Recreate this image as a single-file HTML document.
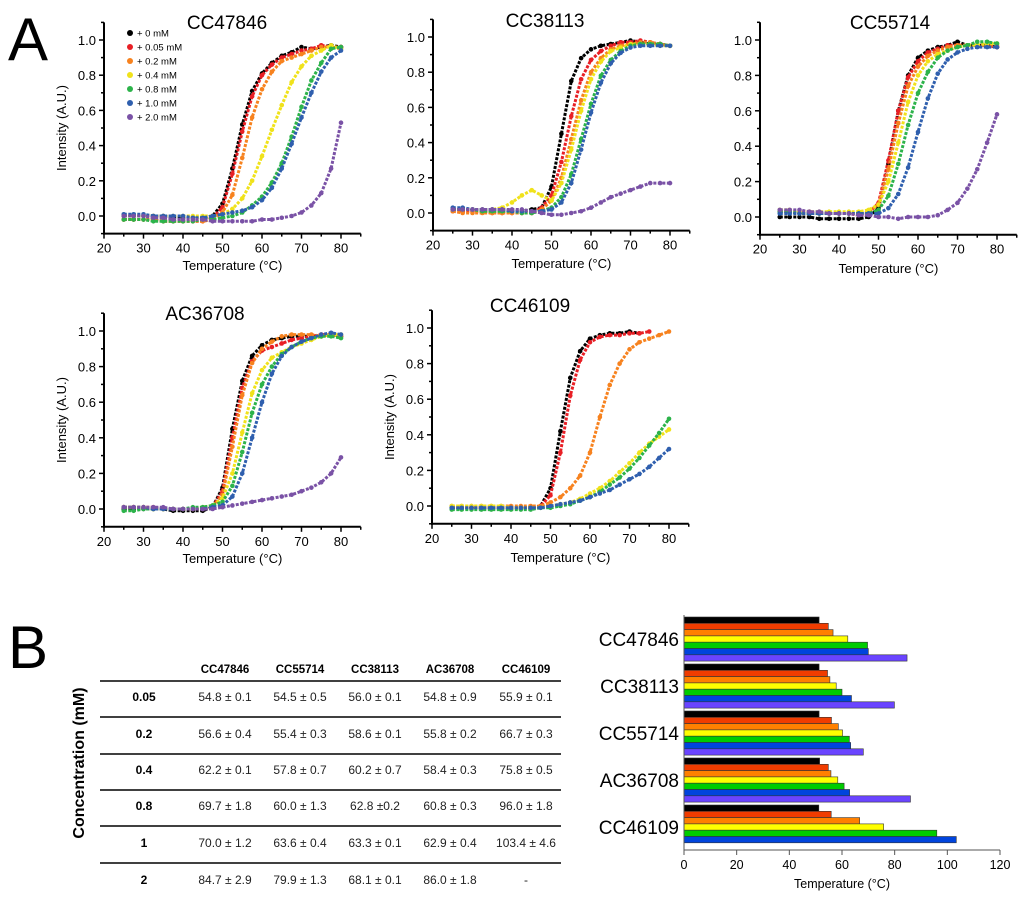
<!DOCTYPE html>
<html><head><meta charset="utf-8"><style>
body{margin:0;background:#fff;}
svg{display:block;font-family:"Liberation Sans",Arial,sans-serif;}
</style></head><body>
<svg id="fig" width="1024" height="898" viewBox="0 0 1024 898" xmlns="http://www.w3.org/2000/svg">
<text x="8" y="60" font-size="60">A</text>
<text x="8" y="668" font-size="60">B</text>
<g id="tbl"></g>
<g id="bars"></g>
</svg>
<script>
const temps=[25,27.5,30,32.5,35,37.5,40,42.5,45,47.5,50,52.5,55,57.5,60,62.5,65,67.5,70,72.5,75,77.5,80];
const seriesNames=["black","red","orange","yellow","green","blue","purple"];
const seriesColors=["#000000","#e81f25","#f7821e","#f0e21a","#2cb34a","#2f5fae","#7a52a6"];
const legendLabels=["+ 0 mM","+ 0.05 mM","+ 0.2 mM","+ 0.4 mM","+ 0.8 mM","+ 1.0 mM","+ 2.0 mM"];
const cc47846=[
[0,0,0,0,0,-0.01,-0.01,-0.01,-0.01,0,0.07,0.27,0.52,0.71,0.81,0.87,0.91,0.93,0.96,0.95,0.96,0.97,0.96],
[-0.02,-0.02,-0.02,-0.02,-0.03,-0.03,-0.03,-0.03,-0.03,-0.01,0.05,0.24,0.48,0.68,0.8,0.86,0.9,0.92,0.94,0.95,0.97,0.96,0.96],
[-0.02,-0.02,-0.02,-0.02,-0.03,-0.03,-0.03,-0.03,-0.03,-0.02,0.02,0.12,0.33,0.56,0.72,0.82,0.88,0.9,0.92,0.94,0.96,0.96,0.95],
[0,0,0,0,0,0,0,0,0,0,0.01,0.04,0.1,0.2,0.34,0.49,0.63,0.76,0.85,0.91,0.94,0.97,0.95],
[-0.02,-0.02,-0.02,-0.03,-0.03,-0.03,-0.03,-0.03,-0.02,-0.02,-0.01,0,0.02,0.06,0.11,0.19,0.3,0.45,0.62,0.77,0.87,0.95,0.96],
[0.01,0.01,0.01,0,0,0,0,-0.01,-0.01,0,0.01,0.02,0.03,0.05,0.09,0.16,0.27,0.41,0.56,0.7,0.82,0.9,0.94],
[0,0,0,-0.01,-0.01,-0.02,-0.02,-0.02,-0.02,-0.03,-0.03,-0.03,-0.03,-0.03,-0.02,-0.02,-0.01,0,0.02,0.06,0.13,0.27,0.53]];
const cc38113=[
[0.02,0.02,0.02,0.01,0.01,0.01,0.01,0.01,0.02,0.03,0.15,0.45,0.75,0.88,0.93,0.95,0.96,0.97,0.98,0.97,0.96,0.96,0.95],
[0.01,0.01,0.01,0.01,0,0,0,0,0,0.03,0.1,0.29,0.55,0.76,0.87,0.92,0.95,0.97,0.97,0.98,0.97,0.96,0.95],
[0.01,0,0,0,0,0,0,0,0,0.02,0.07,0.2,0.42,0.64,0.8,0.88,0.93,0.95,0.96,0.97,0.97,0.96,0.95],
[0.02,0.02,0.02,0.02,0.02,0.03,0.06,0.1,0.13,0.1,0.07,0.17,0.36,0.58,0.76,0.86,0.92,0.94,0.96,0.96,0.96,0.95,0.95],
[0.02,0.02,0.02,0.01,0.01,0.01,0.01,0,0,0.01,0.03,0.09,0.22,0.42,0.62,0.78,0.87,0.92,0.95,0.96,0.96,0.96,0.95],
[0.03,0.03,0.02,0.02,0.02,0.02,0.01,0.01,0.01,0.01,0.02,0.06,0.17,0.36,0.57,0.74,0.85,0.91,0.94,0.95,0.95,0.95,0.95],
[0.02,0.02,0.02,0.02,0.02,0.02,0.02,0.02,0.01,0,-0.01,-0.01,0,0.01,0.03,0.06,0.09,0.11,0.13,0.15,0.17,0.17,0.17]];
const cc55714=[
[0,0,0,0,-0.01,-0.01,-0.01,-0.01,-0.01,0,0.05,0.3,0.6,0.8,0.9,0.94,0.96,0.97,0.99,0.97,0.97,0.97,0.96],
[0.03,0.03,0.02,0.02,0.02,0.02,0.02,0.02,0.01,0.02,0.08,0.32,0.6,0.79,0.88,0.93,0.95,0.97,0.97,0.97,0.97,0.97,0.96],
[0.03,0.03,0.03,0.03,0.02,0.02,0.02,0.02,0.02,0.03,0.07,0.27,0.53,0.74,0.85,0.91,0.94,0.96,0.97,0.97,0.97,0.97,0.97],
[0.04,0.04,0.03,0.03,0.03,0.03,0.03,0.03,0.03,0.04,0.07,0.2,0.42,0.65,0.8,0.88,0.92,0.94,0.96,0.97,0.97,0.98,0.98],
[0.03,0.03,0.02,0.02,0.02,0.02,0.02,0.02,0.02,0.02,0.04,0.12,0.3,0.52,0.7,0.82,0.9,0.94,0.96,0.97,0.99,0.99,0.98],
[0.02,0.02,0.02,0.02,0.02,0.02,0.02,0.02,0.02,0.02,0.02,0.05,0.13,0.28,0.48,0.67,0.81,0.89,0.93,0.95,0.96,0.96,0.96],
[0.04,0.04,0.04,0.03,0.03,0.02,0.02,0.02,0.01,0.01,0,0,-0.01,0,0,0,0.01,0.04,0.08,0.16,0.27,0.42,0.58]];
const ac36708=[
[0,0,0,0,0,-0.01,-0.01,-0.01,-0.01,0.01,0.12,0.45,0.72,0.86,0.92,0.95,0.96,0.97,0.97,0.97,0.97,0.98,0.97],
[0.01,0.01,0.01,0.01,0,0,0,0,0,0.01,0.1,0.4,0.68,0.83,0.89,0.91,0.93,0.95,0.96,0.97,0.98,0.98,0.97],
[0.01,0.01,0.01,0,0,0,0,0,0,0.01,0.08,0.35,0.64,0.82,0.9,0.94,0.97,0.98,0.98,0.98,0.97,0.98,0.97],
[0.01,0.01,0.01,0,0,0,0,0,0.01,0.02,0.06,0.2,0.43,0.65,0.78,0.85,0.88,0.91,0.93,0.95,0.97,0.98,0.98],
[-0.01,-0.01,0,0,0,0,0,0.01,0.01,0.02,0.04,0.13,0.32,0.54,0.7,0.8,0.87,0.91,0.94,0.96,0.97,0.97,0.96],
[0.01,0.01,0.01,0,0,0,0,0,0,0.01,0.02,0.07,0.2,0.4,0.6,0.76,0.86,0.91,0.94,0.96,0.98,0.99,0.98],
[0.01,0.01,0.01,0.01,0.01,0,0,0,0,0,0.01,0.02,0.03,0.04,0.05,0.06,0.07,0.08,0.1,0.12,0.15,0.2,0.29]];
const cc46109=[
[-0.01,-0.01,-0.01,-0.01,-0.01,-0.01,-0.01,-0.01,-0.01,0,0.1,0.42,0.72,0.87,0.94,0.96,0.97,0.97,0.98,0.97,null,null,null],
[-0.01,-0.01,-0.01,-0.01,-0.01,-0.01,-0.01,-0.01,-0.01,0,0.06,0.3,0.62,0.82,0.92,0.95,0.96,0.96,0.97,0.97,0.98,null,null],
[0,0,0,0,0,0,0,0,0,0,0.02,0.05,0.1,0.17,0.3,0.5,0.68,0.8,0.88,0.92,0.94,0.96,0.98],
[0,0,0,0,0,0,-0.01,-0.01,-0.01,-0.01,0,0.01,0.02,0.04,0.07,0.1,0.14,0.19,0.24,0.3,0.35,0.39,0.43],
[-0.02,-0.02,-0.02,-0.02,-0.02,-0.02,-0.02,-0.02,-0.02,-0.01,-0.01,0,0.01,0.03,0.05,0.08,0.12,0.16,0.21,0.27,0.34,0.41,0.49],
[-0.01,-0.01,-0.01,-0.01,-0.01,-0.01,-0.01,-0.01,-0.01,-0.01,0,0.01,0.02,0.03,0.05,0.07,0.09,0.12,0.15,0.18,0.22,0.27,0.32],
null];
const xTicks=[20,30,40,50,60,70,80];
const yTicks=[0,0.2,0.4,0.6,0.8,1.0];

const tableCols=["CC47846","CC55714","CC38113","AC36708","CC46109"];
const tableRows=["0.05","0.2","0.4","0.8","1","2"];
const tableCells=[
["54.8 ± 0.1","54.5 ± 0.5","56.0 ± 0.1","54.8 ± 0.9","55.9 ± 0.1"],
["56.6 ± 0.4","55.4 ± 0.3","58.6 ± 0.1","55.8 ± 0.2","66.7 ± 0.3"],
["62.2 ± 0.1","57.8 ± 0.7","60.2 ± 0.7","58.4 ± 0.3","75.8 ± 0.5"],
["69.7 ± 1.8","60.0 ± 1.3","62.8 ±0.2","60.8 ± 0.3","96.0 ± 1.8"],
["70.0 ± 1.2","63.6 ± 0.4","63.3 ± 0.1","62.9 ± 0.4","103.4 ± 4.6"],
["84.7 ± 2.9","79.9 ± 1.3","68.1 ± 0.1","86.0 ± 1.8","-"]];

const barCats=["CC47846","CC38113","CC55714","AC36708","CC46109"];
const barColors=["#000000","#f03c00","#ff8000","#ffff00","#00cc00","#0044dd","#6a44ff"];
const barVals=[
[51.3,54.8,56.6,62.2,69.7,70.0,84.7],
[51.3,54.5,55.4,57.8,60.0,63.6,79.9],
[51.3,56.0,58.6,60.2,62.8,63.3,68.1],
[51.5,54.8,55.8,58.4,60.8,62.9,86.0],
[51.2,55.9,66.7,75.8,96.0,103.4,null]];
const barTicks=[0,20,40,60,80,100,120];

const NS="http://www.w3.org/2000/svg";
const fig=document.getElementById('fig');
function mk(tag,attrs,parent,text){const e=document.createElementNS(NS,tag);for(const k in attrs)e.setAttribute(k,attrs[k]);if(text!==undefined)e.textContent=text;parent.appendChild(e);return e;}

const panels=[
{name:"CC47846",data:cc47846,x20:104,x80:341,y0:216,y1:40,tx:227,ty:29,ylab:true,xly:270,legend:true},
{name:"CC38113",data:cc38113,x20:433,x80:670,y0:213,y1:37,tx:545,ty:27,ylab:false,xly:268},
{name:"CC55714",data:cc55714,x20:760,x80:997,y0:217,y1:40,tx:890,ty:29,ylab:false,xly:273},
{name:"AC36708",data:ac36708,x20:104,x80:341,y0:509,y1:331,tx:205,ty:320,ylab:true,xly:563},
{name:"CC46109",data:cc46109,x20:432,x80:669,y0:506,y1:328,tx:530,ty:312,ylab:true,xly:562}];

panels.forEach(function(p){
  const g=mk('g',{},fig);
  
  
  const sx=function(t){return p.x20+(t-20)*(p.x80-p.x20)/60;};
  const sy=function(v){return p.y0-(v)*(p.y0-p.y1);};
  const ax=mk('g',{stroke:'#000','stroke-width':2},g);
  
  
  mk('line',{x1:sx(20),y1:sy(1.1),x2:sx(20),y2:sy(-0.1)+1},ax);
  mk('line',{x1:sx(20)-1,y1:sy(-0.1),x2:sx(85),y2:sy(-0.1)},ax);
  for(let t=20;t<=85;t+=5){mk('line',{x1:sx(t),y1:sy(-0.1),x2:sx(t),y2:sy(-0.1)+(t%10===0?5:3),'stroke-width':1.5},ax);}
  for(let v=-0.1;v<=1.101;v+=0.1){mk('line',{x1:sx(20),y1:sy(v),x2:sx(20)-((Math.round(v*10)%2===0)?5:3),y2:sy(v),'stroke-width':1.5},ax);}
  xTicks.forEach(function(t){const e=mk('text',{x:sx(t),y:sy(-0.1)+19,'font-size':13,'text-anchor':'middle'},g,String(t));});
  yTicks.forEach(function(v){const e=mk('text',{x:sx(20)-8,y:sy(v)+5,'font-size':13,'text-anchor':'end'},g,v.toFixed(1));});
  const tt=mk('text',{x:p.tx,y:p.ty,'font-size':19,'text-anchor':'middle'},g,p.name);
  
  
  const xl=mk('text',{x:(sx(20)+sx(85))/2,y:p.xly,'font-size':13,'text-anchor':'middle'},g,'Temperature (°C)');
  
  
  if(p.ylab){const cy=(sy(1.1)+sy(-0.1))/2;const yl=mk('text',{x:sx(20)-38,y:cy,'font-size':13,'text-anchor':'middle',transform:'rotate(-90 '+(sx(20)-38)+' '+cy+')'},g,'Intensity (A.U.)');}
  p.data.forEach(function(ser,si){
    if(!ser)return;
    const sg=mk('g',{fill:seriesColors[si]},g);
    
    
    let pts=[];
    ser.forEach(function(v,i){if(v===null)return;pts.push(sx(temps[i]).toFixed(1)+','+sy(v).toFixed(1));});
    mk('polyline',{points:pts.join(' '),fill:'none',stroke:seriesColors[si],'stroke-width':3,'stroke-dasharray':'3 1.5'},sg);
    ser.forEach(function(v,i){if(v===null)return;const c=mk('circle',{cx:sx(temps[i]),cy:sy(v),r:2.3},sg);});
  });
  if(p.legend){
    const lg=mk('g',{},g);
    
    
    legendLabels.forEach(function(l,i){
      const y=33+i*14;
      mk('circle',{cx:130,cy:y,r:3,fill:seriesColors[i]},lg);
      const e=mk('text',{x:137,y:y+3.5,'font-size':9.5},lg,l);
      
      
    });
  }
});

// Table
const tbl=document.getElementById('tbl');
const colX=[225,300,375,450,526];
const rowY=[697,734,770,806,843,880];
tableCols.forEach(function(c,i){const e=mk('text',{x:colX[i],y:673,'font-size':11.5,'font-weight':'bold','text-anchor':'middle'},tbl,c);});
[681,717,754,790,826,863].forEach(function(y){mk('line',{x1:100,y1:y,x2:561,y2:y,stroke:'#000','stroke-width':1.5},tbl);});
tableRows.forEach(function(r,ri){
  const e=mk('text',{x:144,y:rowY[ri]+4,'font-size':12,'font-weight':'bold','text-anchor':'middle'},tbl,r);
  
  
  tableCells[ri].forEach(function(c,ci){const t=mk('text',{x:colX[ci],y:rowY[ri]+4,'font-size':12,'text-anchor':'middle',fill:'#222'},tbl,c);});
});
const cl=mk('text',{x:84,y:763,'font-size':16,'font-weight':'bold','text-anchor':'middle',transform:'rotate(-90 84 763)'},tbl,'Concentration (mM)');



// Bar chart
const bars=document.getElementById('bars');
const bx=function(v){return 684+v*(1000-684)/120;};
const gTop=617,gStep=47,bH=6.3;
barVals.forEach(function(grp,gi){
  const gg=mk('g',{},bars);
  
  
  grp.forEach(function(v,bi){
    if(v===null)return;
    const r=mk('rect',{x:bx(0),y:gTop+gi*gStep+bi*bH,width:bx(v)-bx(0),height:bH,fill:barColors[bi],stroke:'#333','stroke-width':0.6},gg);
    
    
  });
  const lt=mk('text',{x:679,y:gTop+gi*gStep+bH*3.5+7,'font-size':19,'text-anchor':'end'},gg,barCats[gi]);
  
  
});
mk('line',{x1:bx(0),y1:615,x2:bx(0),y2:851,stroke:'#555','stroke-width':1},bars);
mk('line',{x1:bx(0),y1:850,x2:bx(120),y2:850,stroke:'#555','stroke-width':1},bars);
barTicks.forEach(function(t){
  mk('line',{x1:bx(t),y1:850,x2:bx(t),y2:855,stroke:'#555','stroke-width':1},bars);
  const e=mk('text',{x:bx(t),y:869,'font-size':12.5,'text-anchor':'middle'},bars,String(t));
  
  
});
const bt=mk('text',{x:bx(60),y:888,'font-size':12.5,'text-anchor':'middle'},bars,'Temperature (°C)');


</script>
</body></html>
